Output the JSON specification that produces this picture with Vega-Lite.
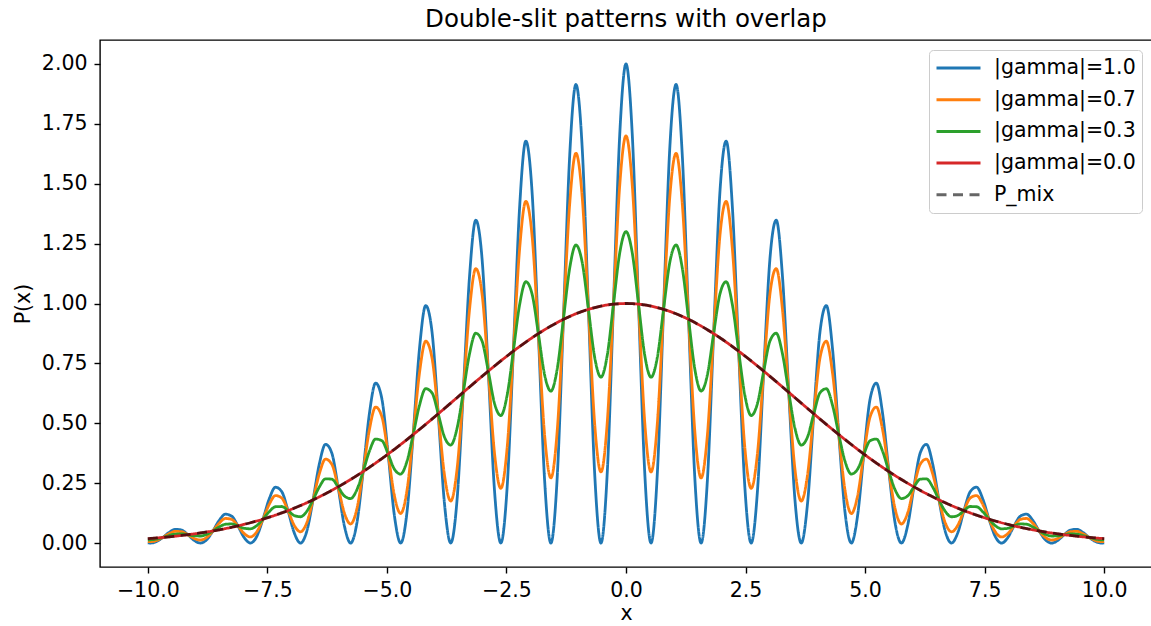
{
  "$schema": "https://vega.github.io/schema/vega-lite/v6.json",
  "width": 1052,
  "height": 527,
  "autosize": {"type": "none"},
  "padding": {"left": 100, "top": 40, "right": 0, "bottom": 59},
  "background": "white",
  "title": {"text": "Double-slit patterns with overlap", "font": "DejaVu Sans", "fontSize": 24.5, "fontWeight": "normal", "color": "#000000", "anchor": "middle", "offset": 8},
  "config": {
    "view": {"stroke": "#000000", "strokeWidth": 1.4},
    "font": "DejaVu Sans",
    "axis": {"domain": false, "grid": false, "ticks": true, "tickColor": "#000000", "tickSize": 6, "tickWidth": 1.4, "labelFont": "DejaVu Sans", "labelFontSize": 20.5, "labelColor": "#000000", "titleFont": "DejaVu Sans", "titleFontSize": 20.5, "titleFontWeight": "normal", "titleColor": "#000000"},
    "legend": {"orient": "top-right", "offset": 10, "labelFont": "DejaVu Sans", "labelFontSize": 20.5, "labelColor": "#000000", "symbolType": "stroke", "symbolSize": 1936, "symbolStrokeWidth": 3, "clipHeight": 24, "rowPadding": 7.7, "padding": 6, "labelOffset": 12, "strokeColor": "#cccccc", "fillColor": "rgba(255,255,255,0.8)", "cornerRadius": 4}
  },
  "data": {"values": [
    {"x": -10, "a": 0.0009, "b": 0.0061, "c": 0.0131, "d": 0.0183, "m": 0.0183},
    {"x": -9.9484, "a": 0, "b": 0.0057, "c": 0.0134, "d": 0.0191, "m": 0.0191},
    {"x": -9.8175, "a": 0.0062, "b": 0.0107, "c": 0.0167, "d": 0.0212, "m": 0.0212},
    {"x": -9.6866, "a": 0.0234, "b": 0.0234, "c": 0.0234, "d": 0.0234, "m": 0.0234},
    {"x": -9.5557, "a": 0.0443, "b": 0.0388, "c": 0.0314, "d": 0.0259, "m": 0.0259},
    {"x": -9.4248, "a": 0.0573, "b": 0.0487, "c": 0.0372, "d": 0.0286, "m": 0.0286},
    {"x": -9.2939, "a": 0.0539, "b": 0.0472, "c": 0.0383, "d": 0.0316, "m": 0.0316},
    {"x": -9.1630, "a": 0.0348, "b": 0.0348, "c": 0.0348, "d": 0.0348, "m": 0.0348},
    {"x": -9.0321, "a": 0.0112, "b": 0.0193, "c": 0.0302, "d": 0.0383, "m": 0.0383},
    {"x": -8.9012, "a": 0, "b": 0.0126, "c": 0.0294, "d": 0.0420, "m": 0.0420},
    {"x": -8.7703, "a": 0.0135, "b": 0.0233, "c": 0.0363, "d": 0.0461, "m": 0.0461},
    {"x": -8.6394, "a": 0.0505, "b": 0.0505, "c": 0.0505, "d": 0.0505, "m": 0.0505},
    {"x": -8.5085, "a": 0.0943, "b": 0.0826, "c": 0.0670, "d": 0.0553, "m": 0.0553},
    {"x": -8.3776, "a": 0.1207, "b": 0.1026, "c": 0.0785, "d": 0.0604, "m": 0.0604},
    {"x": -8.2467, "a": 0.1124, "b": 0.0985, "c": 0.0798, "d": 0.0659, "m": 0.0659},
    {"x": -8.1158, "a": 0.0717, "b": 0.0717, "c": 0.0717, "d": 0.0717, "m": 0.0717},
    {"x": -7.9849, "a": 0.0229, "b": 0.0394, "c": 0.0615, "d": 0.0781, "m": 0.0781},
    {"x": -7.8540, "a": 0, "b": 0.0254, "c": 0.0594, "d": 0.0848, "m": 0.0848},
    {"x": -7.7231, "a": 0.0270, "b": 0.0465, "c": 0.0725, "d": 0.0920, "m": 0.0920},
    {"x": -7.5922, "a": 0.0997, "b": 0.0997, "c": 0.0997, "d": 0.0997, "m": 0.0997},
    {"x": -7.4613, "a": 0.1842, "b": 0.1613, "c": 0.1308, "d": 0.1079, "m": 0.1079},
    {"x": -7.3304, "a": 0.2331, "b": 0.1982, "c": 0.1515, "d": 0.1166, "m": 0.1166},
    {"x": -7.1995, "a": 0.2147, "b": 0.1880, "c": 0.1525, "d": 0.1258, "m": 0.1258},
    {"x": -7.0686, "a": 0.1355, "b": 0.1355, "c": 0.1355, "d": 0.1355, "m": 0.1355},
    {"x": -6.9377, "a": 0.0427, "b": 0.0737, "c": 0.1149, "d": 0.1458, "m": 0.1458},
    {"x": -6.8068, "a": 0, "b": 0.0470, "c": 0.1097, "d": 0.1567, "m": 0.1567},
    {"x": -6.6759, "a": 0.0493, "b": 0.0849, "c": 0.1325, "d": 0.1682, "m": 0.1682},
    {"x": -6.5450, "a": 0.1802, "b": 0.1802, "c": 0.1802, "d": 0.1802, "m": 0.1802},
    {"x": -6.4141, "a": 0.3293, "b": 0.2884, "c": 0.2338, "d": 0.1929, "m": 0.1929},
    {"x": -6.2832, "a": 0.4123, "b": 0.3505, "c": 0.2680, "d": 0.2062, "m": 0.2062},
    {"x": -6.1523, "a": 0.3756, "b": 0.3289, "c": 0.2667, "d": 0.2200, "m": 0.2200},
    {"x": -6.0214, "a": 0.2345, "b": 0.2345, "c": 0.2345, "d": 0.2345, "m": 0.2345},
    {"x": -5.8905, "a": 0.0731, "b": 0.1261, "c": 0.1967, "d": 0.2496, "m": 0.2496},
    {"x": -5.7596, "a": 0, "b": 0.0796, "c": 0.1857, "d": 0.2653, "m": 0.2653},
    {"x": -5.6287, "a": 0.0825, "b": 0.1422, "c": 0.2219, "d": 0.2816, "m": 0.2816},
    {"x": -5.4978, "a": 0.2985, "b": 0.2985, "c": 0.2985, "d": 0.2985, "m": 0.2985},
    {"x": -5.3669, "a": 0.5394, "b": 0.4723, "c": 0.3830, "d": 0.3160, "m": 0.3160},
    {"x": -5.2360, "a": 0.6680, "b": 0.5678, "c": 0.4342, "d": 0.3340, "m": 0.3340},
    {"x": -5.1051, "a": 0.6019, "b": 0.5271, "c": 0.4274, "d": 0.3526, "m": 0.3526},
    {"x": -4.9742, "a": 0.3717, "b": 0.3717, "c": 0.3717, "d": 0.3717, "m": 0.3717},
    {"x": -4.8433, "a": 0.1146, "b": 0.1976, "c": 0.3083, "d": 0.3913, "m": 0.3913},
    {"x": -4.7124, "a": 0, "b": 0.1234, "c": 0.2880, "d": 0.4114, "m": 0.4114},
    {"x": -4.5815, "a": 0.1265, "b": 0.2181, "c": 0.3403, "d": 0.4319, "m": 0.4319},
    {"x": -4.4506, "a": 0.4528, "b": 0.4528, "c": 0.4528, "d": 0.4528, "m": 0.4528},
    {"x": -4.3197, "a": 0.8093, "b": 0.7087, "c": 0.5746, "d": 0.4741, "m": 0.4741},
    {"x": -4.1888, "a": 0.9913, "b": 0.8426, "c": 0.6444, "d": 0.4957, "m": 0.4957},
    {"x": -4.0579, "a": 0.8835, "b": 0.7737, "c": 0.6273, "d": 0.5175, "m": 0.5175},
    {"x": -3.9270, "a": 0.5396, "b": 0.5396, "c": 0.5396, "d": 0.5396, "m": 0.5396},
    {"x": -3.7961, "a": 0.1646, "b": 0.2838, "c": 0.4427, "d": 0.5619, "m": 0.5619},
    {"x": -3.6652, "a": 0, "b": 0.1753, "c": 0.4090, "d": 0.5843, "m": 0.5843},
    {"x": -3.5343, "a": 0.1777, "b": 0.3064, "c": 0.4780, "d": 0.6067, "m": 0.6067},
    {"x": -3.4034, "a": 0.6292, "b": 0.6292, "c": 0.6292, "d": 0.6292, "m": 0.6292},
    {"x": -3.2725, "a": 1.1123, "b": 0.9741, "c": 0.7898, "d": 0.6516, "m": 0.6516},
    {"x": -3.1416, "a": 1.3477, "b": 1.1455, "c": 0.8760, "d": 0.6739, "m": 0.6739},
    {"x": -3.0107, "a": 1.1880, "b": 1.0403, "c": 0.8435, "d": 0.6959, "m": 0.6959},
    {"x": -2.8798, "a": 0.7177, "b": 0.7177, "c": 0.7177, "d": 0.7177, "m": 0.7177},
    {"x": -2.7489, "a": 0.2165, "b": 0.3733, "c": 0.5824, "d": 0.7392, "m": 0.7392},
    {"x": -2.6180, "a": 0, "b": 0.2281, "c": 0.5322, "d": 0.7602, "m": 0.7602},
    {"x": -2.4871, "a": 0.2287, "b": 0.3943, "c": 0.6152, "d": 0.7808, "m": 0.7808},
    {"x": -2.3562, "a": 0.8009, "b": 0.8009, "c": 0.8009, "d": 0.8009, "m": 0.8009},
    {"x": -2.2253, "a": 1.4004, "b": 1.2263, "c": 0.9943, "d": 0.8203, "m": 0.8203},
    {"x": -2.0944, "a": 1.6781, "b": 1.4264, "c": 1.0908, "d": 0.8391, "m": 0.8391},
    {"x": -1.9635, "a": 1.4631, "b": 1.2813, "c": 1.0389, "d": 0.8571, "m": 0.8571},
    {"x": -1.8326, "a": 0.8743, "b": 0.8743, "c": 0.8743, "d": 0.8743, "m": 0.8743},
    {"x": -1.7017, "a": 0.2609, "b": 0.4498, "c": 0.7017, "d": 0.8906, "m": 0.8906},
    {"x": -1.5708, "a": 0, "b": 0.2718, "c": 0.6342, "d": 0.9060, "m": 0.9060},
    {"x": -1.4399, "a": 0.2696, "b": 0.4648, "c": 0.7252, "d": 0.9204, "m": 0.9204},
    {"x": -1.3090, "a": 0.9338, "b": 0.9338, "c": 0.9338, "d": 0.9338, "m": 0.9338},
    {"x": -1.1781, "a": 1.6149, "b": 1.4142, "c": 1.1467, "d": 0.9460, "m": 0.9460},
    {"x": -1.0472, "a": 1.9142, "b": 1.6270, "c": 1.2442, "d": 0.9571, "m": 0.9571},
    {"x": -0.9163, "a": 1.6507, "b": 1.4456, "c": 1.1721, "d": 0.9670, "m": 0.9670},
    {"x": -0.7854, "a": 0.9756, "b": 0.9756, "c": 0.9756, "d": 0.9756, "m": 0.9756},
    {"x": -0.6545, "a": 0.2879, "b": 0.4965, "c": 0.7745, "d": 0.9830, "m": 0.9830},
    {"x": -0.5236, "a": 0, "b": 0.2967, "c": 0.6924, "d": 0.9891, "m": 0.9891},
    {"x": -0.3927, "a": 0.2911, "b": 0.5019, "c": 0.7830, "d": 0.9939, "m": 0.9939},
    {"x": -0.2618, "a": 0.9973, "b": 0.9973, "c": 0.9973, "d": 0.9973, "m": 0.9973},
    {"x": -0.1309, "a": 1.7059, "b": 1.4939, "c": 1.2113, "d": 0.9993, "m": 0.9993},
    {"x": 0, "a": 2, "b": 1.7, "c": 1.3, "d": 1, "m": 1},
    {"x": 0.1309, "a": 1.7059, "b": 1.4939, "c": 1.2113, "d": 0.9993, "m": 0.9993},
    {"x": 0.2618, "a": 0.9973, "b": 0.9973, "c": 0.9973, "d": 0.9973, "m": 0.9973},
    {"x": 0.3927, "a": 0.2911, "b": 0.5019, "c": 0.7830, "d": 0.9939, "m": 0.9939},
    {"x": 0.5236, "a": 0, "b": 0.2967, "c": 0.6924, "d": 0.9891, "m": 0.9891},
    {"x": 0.6545, "a": 0.2879, "b": 0.4965, "c": 0.7745, "d": 0.9830, "m": 0.9830},
    {"x": 0.7854, "a": 0.9756, "b": 0.9756, "c": 0.9756, "d": 0.9756, "m": 0.9756},
    {"x": 0.9163, "a": 1.6507, "b": 1.4456, "c": 1.1721, "d": 0.9670, "m": 0.9670},
    {"x": 1.0472, "a": 1.9142, "b": 1.6270, "c": 1.2442, "d": 0.9571, "m": 0.9571},
    {"x": 1.1781, "a": 1.6149, "b": 1.4142, "c": 1.1467, "d": 0.9460, "m": 0.9460},
    {"x": 1.3090, "a": 0.9338, "b": 0.9338, "c": 0.9338, "d": 0.9338, "m": 0.9338},
    {"x": 1.4399, "a": 0.2696, "b": 0.4648, "c": 0.7252, "d": 0.9204, "m": 0.9204},
    {"x": 1.5708, "a": 0, "b": 0.2718, "c": 0.6342, "d": 0.9060, "m": 0.9060},
    {"x": 1.7017, "a": 0.2609, "b": 0.4498, "c": 0.7017, "d": 0.8906, "m": 0.8906},
    {"x": 1.8326, "a": 0.8743, "b": 0.8743, "c": 0.8743, "d": 0.8743, "m": 0.8743},
    {"x": 1.9635, "a": 1.4631, "b": 1.2813, "c": 1.0389, "d": 0.8571, "m": 0.8571},
    {"x": 2.0944, "a": 1.6781, "b": 1.4264, "c": 1.0908, "d": 0.8391, "m": 0.8391},
    {"x": 2.2253, "a": 1.4004, "b": 1.2263, "c": 0.9943, "d": 0.8203, "m": 0.8203},
    {"x": 2.3562, "a": 0.8009, "b": 0.8009, "c": 0.8009, "d": 0.8009, "m": 0.8009},
    {"x": 2.4871, "a": 0.2287, "b": 0.3943, "c": 0.6152, "d": 0.7808, "m": 0.7808},
    {"x": 2.6180, "a": 0, "b": 0.2281, "c": 0.5322, "d": 0.7602, "m": 0.7602},
    {"x": 2.7489, "a": 0.2165, "b": 0.3733, "c": 0.5824, "d": 0.7392, "m": 0.7392},
    {"x": 2.8798, "a": 0.7177, "b": 0.7177, "c": 0.7177, "d": 0.7177, "m": 0.7177},
    {"x": 3.0107, "a": 1.1880, "b": 1.0403, "c": 0.8435, "d": 0.6959, "m": 0.6959},
    {"x": 3.1416, "a": 1.3477, "b": 1.1455, "c": 0.8760, "d": 0.6739, "m": 0.6739},
    {"x": 3.2725, "a": 1.1123, "b": 0.9741, "c": 0.7898, "d": 0.6516, "m": 0.6516},
    {"x": 3.4034, "a": 0.6292, "b": 0.6292, "c": 0.6292, "d": 0.6292, "m": 0.6292},
    {"x": 3.5343, "a": 0.1777, "b": 0.3064, "c": 0.4780, "d": 0.6067, "m": 0.6067},
    {"x": 3.6652, "a": 0, "b": 0.1753, "c": 0.4090, "d": 0.5843, "m": 0.5843},
    {"x": 3.7961, "a": 0.1646, "b": 0.2838, "c": 0.4427, "d": 0.5619, "m": 0.5619},
    {"x": 3.9270, "a": 0.5396, "b": 0.5396, "c": 0.5396, "d": 0.5396, "m": 0.5396},
    {"x": 4.0579, "a": 0.8835, "b": 0.7737, "c": 0.6273, "d": 0.5175, "m": 0.5175},
    {"x": 4.1888, "a": 0.9913, "b": 0.8426, "c": 0.6444, "d": 0.4957, "m": 0.4957},
    {"x": 4.3197, "a": 0.8093, "b": 0.7087, "c": 0.5746, "d": 0.4741, "m": 0.4741},
    {"x": 4.4506, "a": 0.4528, "b": 0.4528, "c": 0.4528, "d": 0.4528, "m": 0.4528},
    {"x": 4.5815, "a": 0.1265, "b": 0.2181, "c": 0.3403, "d": 0.4319, "m": 0.4319},
    {"x": 4.7124, "a": 0, "b": 0.1234, "c": 0.2880, "d": 0.4114, "m": 0.4114},
    {"x": 4.8433, "a": 0.1146, "b": 0.1976, "c": 0.3083, "d": 0.3913, "m": 0.3913},
    {"x": 4.9742, "a": 0.3717, "b": 0.3717, "c": 0.3717, "d": 0.3717, "m": 0.3717},
    {"x": 5.1051, "a": 0.6019, "b": 0.5271, "c": 0.4274, "d": 0.3526, "m": 0.3526},
    {"x": 5.2360, "a": 0.6680, "b": 0.5678, "c": 0.4342, "d": 0.3340, "m": 0.3340},
    {"x": 5.3669, "a": 0.5394, "b": 0.4723, "c": 0.3830, "d": 0.3160, "m": 0.3160},
    {"x": 5.4978, "a": 0.2985, "b": 0.2985, "c": 0.2985, "d": 0.2985, "m": 0.2985},
    {"x": 5.6287, "a": 0.0825, "b": 0.1422, "c": 0.2219, "d": 0.2816, "m": 0.2816},
    {"x": 5.7596, "a": 0, "b": 0.0796, "c": 0.1857, "d": 0.2653, "m": 0.2653},
    {"x": 5.8905, "a": 0.0731, "b": 0.1261, "c": 0.1967, "d": 0.2496, "m": 0.2496},
    {"x": 6.0214, "a": 0.2345, "b": 0.2345, "c": 0.2345, "d": 0.2345, "m": 0.2345},
    {"x": 6.1523, "a": 0.3756, "b": 0.3289, "c": 0.2667, "d": 0.2200, "m": 0.2200},
    {"x": 6.2832, "a": 0.4123, "b": 0.3505, "c": 0.2680, "d": 0.2062, "m": 0.2062},
    {"x": 6.4141, "a": 0.3293, "b": 0.2884, "c": 0.2338, "d": 0.1929, "m": 0.1929},
    {"x": 6.5450, "a": 0.1802, "b": 0.1802, "c": 0.1802, "d": 0.1802, "m": 0.1802},
    {"x": 6.6759, "a": 0.0493, "b": 0.0849, "c": 0.1325, "d": 0.1682, "m": 0.1682},
    {"x": 6.8068, "a": 0, "b": 0.0470, "c": 0.1097, "d": 0.1567, "m": 0.1567},
    {"x": 6.9377, "a": 0.0427, "b": 0.0737, "c": 0.1149, "d": 0.1458, "m": 0.1458},
    {"x": 7.0686, "a": 0.1355, "b": 0.1355, "c": 0.1355, "d": 0.1355, "m": 0.1355},
    {"x": 7.1995, "a": 0.2147, "b": 0.1880, "c": 0.1525, "d": 0.1258, "m": 0.1258},
    {"x": 7.3304, "a": 0.2331, "b": 0.1982, "c": 0.1515, "d": 0.1166, "m": 0.1166},
    {"x": 7.4613, "a": 0.1842, "b": 0.1613, "c": 0.1308, "d": 0.1079, "m": 0.1079},
    {"x": 7.5922, "a": 0.0997, "b": 0.0997, "c": 0.0997, "d": 0.0997, "m": 0.0997},
    {"x": 7.7231, "a": 0.0270, "b": 0.0465, "c": 0.0725, "d": 0.0920, "m": 0.0920},
    {"x": 7.8540, "a": 0, "b": 0.0254, "c": 0.0594, "d": 0.0848, "m": 0.0848},
    {"x": 7.9849, "a": 0.0229, "b": 0.0394, "c": 0.0615, "d": 0.0781, "m": 0.0781},
    {"x": 8.1158, "a": 0.0717, "b": 0.0717, "c": 0.0717, "d": 0.0717, "m": 0.0717},
    {"x": 8.2467, "a": 0.1124, "b": 0.0985, "c": 0.0798, "d": 0.0659, "m": 0.0659},
    {"x": 8.3776, "a": 0.1207, "b": 0.1026, "c": 0.0785, "d": 0.0604, "m": 0.0604},
    {"x": 8.5085, "a": 0.0943, "b": 0.0826, "c": 0.0670, "d": 0.0553, "m": 0.0553},
    {"x": 8.6394, "a": 0.0505, "b": 0.0505, "c": 0.0505, "d": 0.0505, "m": 0.0505},
    {"x": 8.7703, "a": 0.0135, "b": 0.0233, "c": 0.0363, "d": 0.0461, "m": 0.0461},
    {"x": 8.9012, "a": 0, "b": 0.0126, "c": 0.0294, "d": 0.0420, "m": 0.0420},
    {"x": 9.0321, "a": 0.0112, "b": 0.0193, "c": 0.0302, "d": 0.0383, "m": 0.0383},
    {"x": 9.1630, "a": 0.0348, "b": 0.0348, "c": 0.0348, "d": 0.0348, "m": 0.0348},
    {"x": 9.2939, "a": 0.0539, "b": 0.0472, "c": 0.0383, "d": 0.0316, "m": 0.0316},
    {"x": 9.4248, "a": 0.0573, "b": 0.0487, "c": 0.0372, "d": 0.0286, "m": 0.0286},
    {"x": 9.5557, "a": 0.0443, "b": 0.0388, "c": 0.0314, "d": 0.0259, "m": 0.0259},
    {"x": 9.6866, "a": 0.0234, "b": 0.0234, "c": 0.0234, "d": 0.0234, "m": 0.0234},
    {"x": 9.8175, "a": 0.0062, "b": 0.0107, "c": 0.0167, "d": 0.0212, "m": 0.0212},
    {"x": 9.9484, "a": 0, "b": 0.0057, "c": 0.0134, "d": 0.0191, "m": 0.0191},
    {"x": 10, "a": 0.0009, "b": 0.0061, "c": 0.0131, "d": 0.0183, "m": 0.0183}
  ]},
  "transform": [{"fold": ["a", "b", "c", "d", "m"], "as": ["k", "v"]}],
  "mark": {"type": "line", "interpolate": "monotone", "strokeWidth": 2.8},
  "encoding": {
    "x": {"field": "x", "type": "quantitative", "scale": {"domain": [-11, 11], "nice": false, "zero": false}, "axis": {"values": [-10, -7.5, -5, -2.5, 0, 2.5, 5, 7.5, 10], "format": ".1f", "title": "x", "labelPadding": 7, "titlePadding": 3}},
    "y": {"field": "v", "type": "quantitative", "scale": {"domain": [-0.1, 2.1], "nice": false, "zero": false}, "axis": {"values": [0, 0.25, 0.5, 0.75, 1, 1.25, 1.5, 1.75, 2], "format": ".2f", "title": "P(x)", "labelPadding": 7, "titlePadding": 8}},
    "color": {"field": "k", "type": "nominal", "scale": {"domain": ["a", "b", "c", "d", "m"], "range": ["#1f77b4", "#ff7f0e", "#2ca02c", "#d62728", "rgba(0,0,0,0.6)"]}, "legend": {"title": null, "labelExpr": "{'a':'|gamma|=1.0','b':'|gamma|=0.7','c':'|gamma|=0.3','d':'|gamma|=0.0','m':'P_mix'}[datum.label]"}},
    "strokeDash": {"field": "k", "type": "nominal", "scale": {"domain": ["a", "b", "c", "d", "m"], "range": [[1, 0], [1, 0], [1, 0], [1, 0], [10, 6.5]]}, "legend": {"title": null, "labelExpr": "{'a':'|gamma|=1.0','b':'|gamma|=0.7','c':'|gamma|=0.3','d':'|gamma|=0.0','m':'P_mix'}[datum.label]"}}
  }
}
